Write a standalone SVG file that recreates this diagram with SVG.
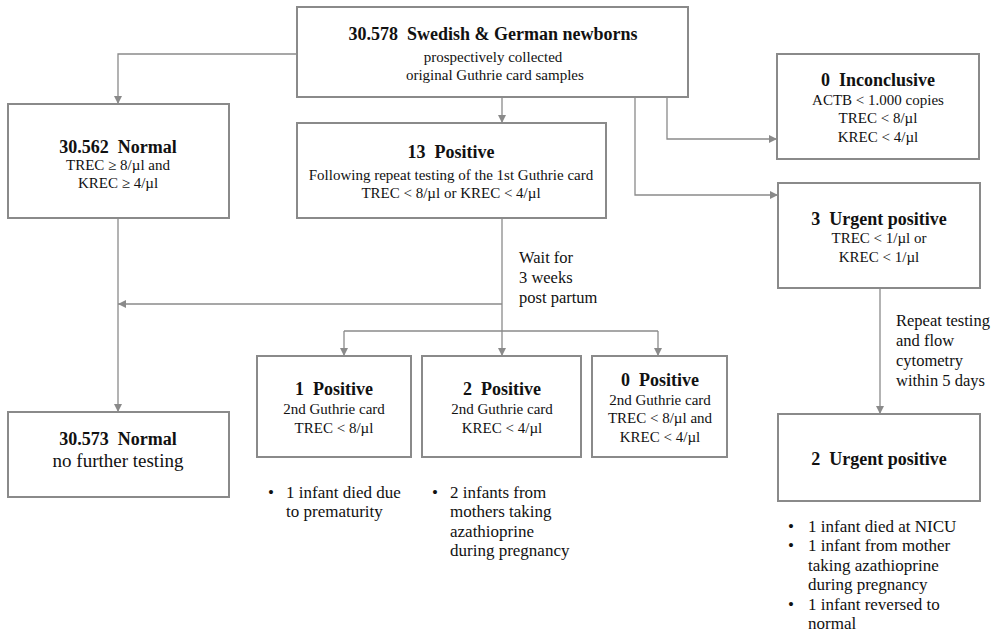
<svg xmlns="http://www.w3.org/2000/svg" width="997" height="632" viewBox="0 0 997 632" font-family="'Liberation Serif', 'Times New Roman', Times, 'DejaVu Serif', serif">
<style>
.box{fill:#fff;stroke:#8a8a8a;stroke-width:2}
.ln{fill:none;stroke:#8a8a8a;stroke-width:1.3}
text{font-family:'Liberation Serif','Times New Roman',Times,'DejaVu Serif',serif;fill:#111;white-space:pre}
.t{font-size:18px;font-weight:bold;text-anchor:middle}
.s{font-size:15px;text-anchor:middle}
.l{font-size:16.5px}
.b{font-size:17px}
</style>
<defs>
<marker id="ah" viewBox="0 0 10 10" refX="10" refY="5" markerWidth="8" markerHeight="8" markerUnits="userSpaceOnUse" orient="auto">
<path d="M0,0 L10,5 L0,10 z" fill="#8a8a8a"/>
</marker>
</defs>
<rect width="997" height="632" fill="#fff"/>
<g id="connectors">
<path class="ln" d="M297,54 H118 V104" marker-end="url(#ah)"/>
<path class="ln" d="M502,97 V123" marker-end="url(#ah)"/>
<path class="ln" d="M667,97 V139 H777" marker-end="url(#ah)"/>
<path class="ln" d="M635,97 V195 H778" marker-end="url(#ah)"/>
<path class="ln" d="M118,218 V412" marker-end="url(#ah)"/>
<path class="ln" d="M502,218 V356" marker-end="url(#ah)"/>
<path class="ln" d="M502,304 H118" marker-end="url(#ah)"/>
<path class="ln" d="M344,331 H658"/>
<path class="ln" d="M344,331 V356" marker-end="url(#ah)"/>
<path class="ln" d="M658,331 V356" marker-end="url(#ah)"/>
<path class="ln" d="M880,288 V414" marker-end="url(#ah)"/>
</g>
<g id="n_top">
<rect class="box" x="297" y="7" width="391" height="90"/>
<text class="t" x="493" y="40">30.578  Swedish &amp; German newborns</text>
<text class="s" x="493" y="62">prospectively collected</text>
<text class="s" x="493" y="80"> original Guthrie card samples</text>
</g>
<g id="n_normal">
<rect class="box" x="8" y="104" width="221" height="114"/>
<text class="t" x="118" y="153">30.562  Normal</text>
<text class="s" x="118" y="170">TREC ≥ 8/µl and</text>
<text class="s" x="118" y="188">KREC ≥ 4/µl</text>
</g>
<g id="n_pos13">
<rect class="box" x="297" y="123" width="309" height="95"/>
<text class="t" x="451" y="158">13  Positive</text>
<text class="s" x="451" y="180">Following repeat testing of the 1st Guthrie card</text>
<text class="s" x="451" y="198">TREC &lt; 8/µl or KREC &lt; 4/µl</text>
</g>
<g id="n_inconclusive">
<rect class="box" x="777" y="54" width="202" height="105"/>
<text class="t" x="878" y="86">0  Inconclusive</text>
<text class="s" x="878" y="105">ACTB &lt; 1.000 copies</text>
<text class="s" x="878" y="123">TREC &lt; 8/µl</text>
<text class="s" x="878" y="142">KREC &lt; 4/µl</text>
</g>
<g id="n_urgent3">
<rect class="box" x="778" y="183" width="202" height="105"/>
<text class="t" x="879" y="225">3  Urgent positive</text>
<text class="s" x="879" y="243">TREC &lt; 1/µl or</text>
<text class="s" x="879" y="262">KREC &lt; 1/µl</text>
</g>
<g id="lbl_wait">
<text class="l" x="519" y="263">Wait for</text>
<text class="l" x="519" y="283">3 weeks</text>
<text class="l" x="519" y="303">post partum</text>
</g>
<g id="n_pos1">
<rect class="box" x="257" y="356" width="154" height="101"/>
<text class="t" x="334" y="395">1  Positive</text>
<text class="s" x="334" y="414">2nd Guthrie card</text>
<text class="s" x="334" y="433">TREC &lt; 8/µl</text>
</g>
<g id="n_pos2">
<rect class="box" x="422" y="356" width="159" height="101"/>
<text class="t" x="502" y="395">2  Positive</text>
<text class="s" x="502" y="414">2nd Guthrie card</text>
<text class="s" x="502" y="433">KREC &lt; 4/µl</text>
</g>
<g id="n_pos0">
<rect class="box" x="592" y="356" width="135" height="101"/>
<text class="t" x="660" y="386">0  Positive</text>
<text class="s" x="660" y="405">2nd Guthrie card</text>
<text class="s" x="660" y="423">TREC &lt; 8/µl and</text>
<text class="s" x="660" y="442">KREC &lt; 4/µl</text>
</g>
<g id="n_normal2">
<rect class="box" x="8" y="412" width="221" height="85"/>
<text class="t" x="118" y="445">30.573  Normal</text>
<text class="s" x="118" y="467" style="font-size:19px">no further testing</text>
</g>
<g id="lbl_repeat">
<text class="l" x="896" y="326">Repeat testing</text>
<text class="l" x="896" y="346">and flow</text>
<text class="l" x="896" y="366">cytometry</text>
<text class="l" x="896" y="386">within 5 days</text>
</g>
<g id="n_urgent2">
<rect class="box" x="778" y="414" width="202" height="87"/>
<text class="t" x="879" y="465">2  Urgent positive</text>
</g>
<g id="notes1">
<text class="b" x="268" y="498">•</text>
<text class="b" x="286" y="498">1 infant died due</text>
<text class="b" x="286" y="517">to prematurity</text>
</g>
<g id="notes2">
<text class="b" x="432" y="498">•</text>
<text class="b" x="450" y="498">2 infants from</text>
<text class="b" x="450" y="517">mothers taking</text>
<text class="b" x="450" y="537">azathioprine</text>
<text class="b" x="450" y="556">during pregnancy</text>
</g>
<g id="notes3">
<text class="b" x="788" y="532">•</text>
<text class="b" x="808" y="532">1 infant died at NICU</text>
<text class="b" x="788" y="551">•</text>
<text class="b" x="808" y="551">1 infant from mother</text>
<text class="b" x="808" y="571">taking azathioprine</text>
<text class="b" x="808" y="590">during pregnancy</text>
<text class="b" x="788" y="610">•</text>
<text class="b" x="808" y="610">1 infant reversed to</text>
<text class="b" x="808" y="629">normal</text>
</g>
</svg>
